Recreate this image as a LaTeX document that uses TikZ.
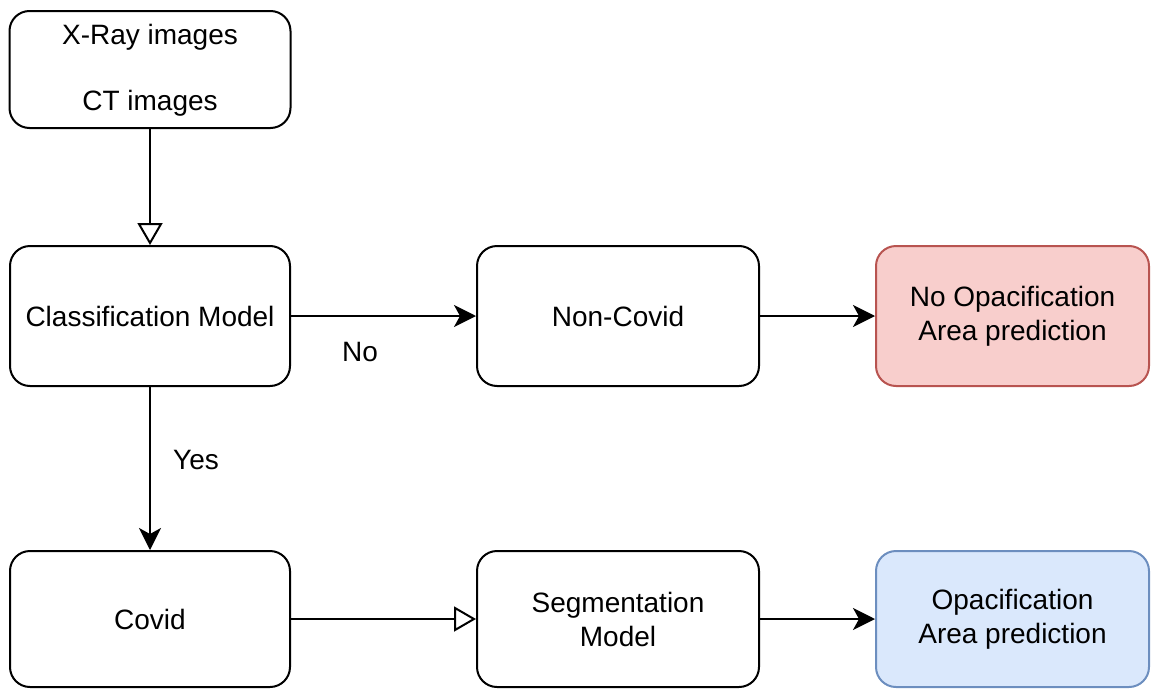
\documentclass[tikz,border=0pt]{standalone}
\usepackage{fontspec}
\setmainfont{Liberation Sans}
\usetikzlibrary{arrows.meta}
\definecolor{redfill}{HTML}{F8CECC}
\definecolor{redline}{HTML}{B85450}
\definecolor{bluefill}{HTML}{DAE8FC}
\definecolor{blueline}{HTML}{6C8EBF}
\begin{document}
\begin{tikzpicture}[x=1pt,y=-1pt,
  box/.style={draw=black, line width=2pt, rounded corners=20pt, inner sep=0pt,
    align=center, font=\fontsize{28}{34}\selectfont},
  lbl/.style={inner sep=0pt, font=\fontsize{28}{34}\selectfont},
  filledarrow/.style={line width=2pt, -{Stealth[length=22pt,width=22pt,inset=6pt]}},
  openarrow/.style={line width=2pt, -{Triangle[open,length=22pt,width=25pt]}}]
\useasboundingbox (0,0) rectangle (1151,688);
\node[box, minimum width=281pt, minimum height=117pt] (in) at (150,69.5) {};
\node[lbl] (xray) at (150,37) {X-Ray images};
\node[lbl] (ct) at (150,103) {CT images};
\node[box, minimum width=280pt, minimum height=140pt] (cls) at (150,316) {Classification Model};
\node[box, minimum width=282pt, minimum height=140pt] (non) at (618,316) {Non-Covid};
\node[box, fill=redfill, draw=redline, minimum width=273pt, minimum height=140pt] (noop) at (1012.5,316)
  {No Opacification\\Area prediction};
\node[box, minimum width=280pt, minimum height=136pt] (cov) at (150,619) {Covid};
\node[box, minimum width=282pt, minimum height=136pt] (seg) at (618,619) {Segmentation\\Model};
\node[box, fill=bluefill, draw=blueline, minimum width=273pt, minimum height=136pt] (op) at (1012.5,619)
  {Opacification\\Area prediction};
\draw[openarrow] (in.south) -- (cls.north);
\draw[filledarrow] (cls.east) -- (non.west);
\draw[filledarrow] (non.east) -- (noop.west);
\draw[filledarrow] (cls.south) -- (cov.north);
\draw[openarrow] (cov.east) -- (seg.west);
\draw[filledarrow] (seg.east) -- (op.west);
\node[lbl] (no) at (360,352) {No};
\node[lbl] (yes) at (196,460) {Yes};
\end{tikzpicture}
\end{document}
